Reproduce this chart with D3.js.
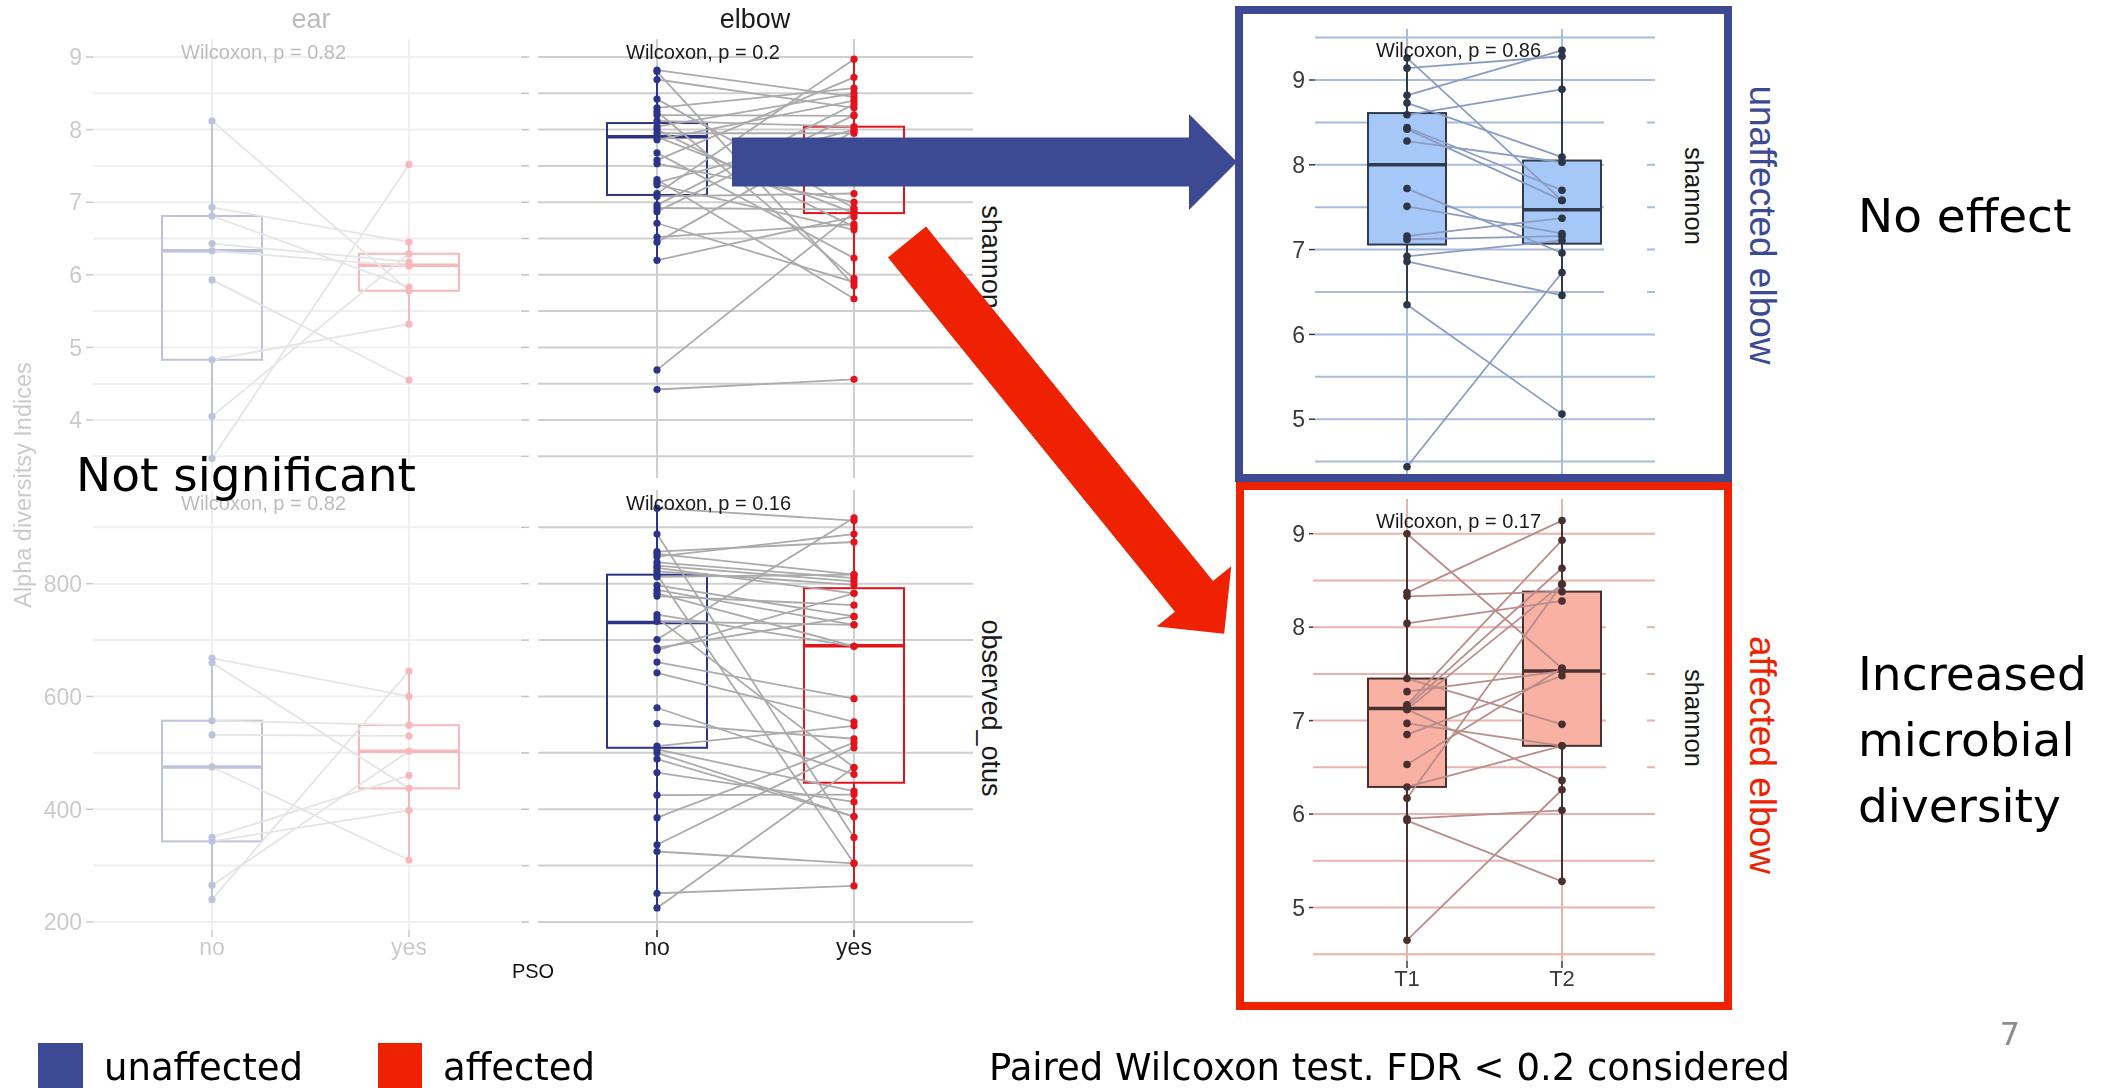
<!DOCTYPE html>
<html>
<head>
<meta charset="utf-8">
<script src="https://cdn.jsdelivr.net/npm/d3@7"></script>
<style>
  html, body { margin: 0; padding: 0; background: #fff; overflow: hidden; }
  svg { display: block; }
</style>
</head>
<body>
<svg id="slide" width="2115" height="1088"></svg>
<script>
// ---------------- data ----------------
const groups = ["no", "yes"];
const timepoints = ["T1", "T2"];
const shannonTicks = [4, 5, 6, 7, 8, 9];
const otusTicks = [200, 400, 600, 800];
const rightTicks = [5, 6, 7, 8, 9];

// ear, shannon (paired: no -> yes)
const earShannonNo  = [8.12, 6.93, 6.81, 6.43, 6.33, 5.93, 4.83, 4.05, 3.47];
const earShannonYes = [5.78, 6.45, 5.83, 6.18, 6.12, 4.55, 5.32, 6.29, 7.52];
// box stats: [lower whisker, q1, median, q3, upper whisker]
const earShannonBox = [[3.47, 4.83, 6.33, 6.81, 8.12], [5.32, 5.78, 6.13, 6.29, 6.45]];

// ear, observed_otus
const earOtusNo  = [668, 660, 557, 532, 475, 350, 343, 265, 240];
const earOtusYes = [600, 437, 549, 530, 310, 460, 398, 503, 645];
const earOtusBox = [[240, 343, 475, 557, 668], [310, 437, 503, 549, 645]];

// elbow, shannon
const elbowShannonNo  = [8.82, 8.80, 8.69, 8.42, 8.30, 8.25, 8.20, 8.12, 8.04, 8.00, 7.95, 7.90, 7.86, 7.68, 7.58,
                         7.53, 7.31, 7.27, 7.24, 7.12, 7.08, 6.96, 6.92, 6.87, 6.71, 6.52, 6.45, 6.20, 4.69, 4.42];
const elbowShannonYes = [8.45, 5.85, 8.30, 6.92, 8.57, 5.95, 8.19, 8.04, 8.50, 6.66, 7.95, 6.85, 8.40, 6.23, 8.72,
                         7.00, 5.67, 8.00, 6.62, 8.97, 7.12, 8.35, 6.90, 8.20, 5.90, 6.70, 7.98, 6.80, 6.86, 4.56];
const elbowShannonBox = [[6.20, 7.10, 7.90, 8.09, 8.82], [5.67, 6.85, 7.55, 8.04, 8.97]];

// elbow, observed_otus
const elbowOtusNo  = [934, 888, 857, 853, 848, 838, 832, 828, 822, 816, 812, 797, 789, 783, 778, 745, 739, 733,
                      701, 686, 682, 661, 642, 580, 552, 512, 506, 500, 489, 465, 425, 385, 337, 325, 251, 225];
const elbowOtusYes = [912, 350, 874, 816, 888, 810, 804, 783, 798, 304, 816, 742, 727, 689, 762, 689, 474, 727,
                      917, 742, 783, 596, 555, 462, 525, 548, 432, 387, 387, 413, 426, 518, 509, 304, 264, 474];
const elbowOtusBox = [[225, 509, 731, 816, 934], [264, 447, 690, 792, 917]];

// unaffected elbow, shannon (T1 -> T2)
const unaffT1 = [9.14, 8.82, 8.73, 8.59, 9.26, 8.44, 8.42, 8.28, 7.72, 7.51, 7.16, 7.12, 6.92, 6.86, 6.35, 4.44];
const unaffT2 = [9.28, 9.35, 8.09, 8.89, 7.58, 7.70, 7.58, 8.03, 6.96, 7.19, 7.37, 7.16, 7.11, 6.46, 5.06, 6.73];
const unaffBox = [[6.35, 7.06, 8.00, 8.61, 9.26], [6.46, 7.07, 7.47, 8.05, 9.35]];

// affected elbow, shannon (T1 -> T2)
const affT1 = [9.00, 8.37, 8.33, 8.04, 7.45, 7.31, 7.17, 7.15, 7.12, 7.12, 6.97, 6.85, 6.53, 6.29, 6.17, 5.95, 5.93, 4.65];
const affT2 = [7.56, 9.14, 8.38, 8.28, 6.96, 7.53, 8.93, 8.63, 8.46, 6.36, 6.73, 7.48, 7.56, 6.73, 8.46, 6.04, 5.28, 6.26];
const affBox = [[4.65, 6.29, 7.13, 7.45, 9.00], [5.28, 6.73, 7.53, 8.38, 9.14]];

const pLabels = {
  earShannon: "Wilcoxon, p = 0.82", earOtus: "Wilcoxon, p = 0.82",
  elbowShannon: "Wilcoxon, p = 0.2", elbowOtus: "Wilcoxon, p = 0.16",
  unaff: "Wilcoxon, p = 0.86", aff: "Wilcoxon, p = 0.17"
};

// ---------------- setup ----------------
const svg = d3.select("#slide");
const GG = "'Liberation Sans', Arial, Helvetica, sans-serif";
const SL = "'DejaVu Sans', 'Noto Sans', sans-serif";

const yShan = d3.scaleLinear().domain([3.5, 9]).range([456.3, 57]);
const yOtus = d3.scaleLinear().domain([200, 800]).range([922, 583.7]);
const xEar = d3.scalePoint().domain(groups).range([212, 409]);
const xElbow = d3.scalePoint().domain(groups).range([657, 854]);
const yUnaff = d3.scaleLinear().domain([5, 9]).range([419.2, 80]);
const yAff = d3.scaleLinear().domain([5, 9]).range([907.5, 533.7]);
const xRight = d3.scalePoint().domain(timepoints).range([1407, 1562]);

const shanGrid = d3.range(3.5, 9.01, 0.5);
const otusGrid = d3.range(200, 901, 100);
const unaffGrid = d3.range(4.5, 9.51, 0.5);
const affGrid = d3.range(4.5, 9.01, 0.5);

function grid(g, o) {
  g.append("g").selectAll("line").data(o.hTicks).join("line")
    .attr("x1", o.x0).attr("x2", o.x1)
    .attr("y1", d => o.y(d)).attr("y2", d => o.y(d))
    .attr("stroke", o.color).attr("stroke-width", o.width);
  g.append("g").selectAll("line").data(o.x.domain()).join("line")
    .attr("x1", d => o.x(d)).attr("x2", d => o.x(d))
    .attr("y1", o.y0).attr("y2", o.y1)
    .attr("stroke", o.color).attr("stroke-width", o.width);
}

function pairedBox(g, o) {
  const keys = o.x.domain();
  o.boxes.forEach((s, i) => {
    const cx = o.x(keys[i]);
    const c = o.stroke[i];
    const bg = g.append("g");
    bg.append("line").attr("x1", cx).attr("x2", cx).attr("y1", o.y(s[0])).attr("y2", o.y(s[1]))
      .attr("stroke", c).attr("stroke-width", o.sw);
    bg.append("line").attr("x1", cx).attr("x2", cx).attr("y1", o.y(s[3])).attr("y2", o.y(s[4]))
      .attr("stroke", c).attr("stroke-width", o.sw);
    bg.append("rect").attr("x", cx - o.bw / 2).attr("y", o.y(s[3]))
      .attr("width", o.bw).attr("height", o.y(s[1]) - o.y(s[3]))
      .attr("fill", o.fill[i]).attr("stroke", c).attr("stroke-width", o.sw);
    bg.append("line").attr("x1", cx - o.bw / 2).attr("x2", cx + o.bw / 2)
      .attr("y1", o.y(s[2])).attr("y2", o.y(s[2]))
      .attr("stroke", c).attr("stroke-width", o.msw);
  });
  g.append("g").selectAll("line").data(d3.zip(o.a, o.b)).join("line")
    .attr("x1", o.x(keys[0])).attr("x2", o.x(keys[1]))
    .attr("y1", d => o.y(d[0])).attr("y2", d => o.y(d[1]))
    .attr("stroke", o.lineColor).attr("stroke-width", o.lw);
  [o.a, o.b].forEach((vals, i) => {
    g.append("g").selectAll("circle").data(vals).join("circle")
      .attr("cx", o.x(keys[i])).attr("cy", d => o.y(d)).attr("r", o.r)
      .attr("fill", o.point[i]);
  });
  g.append("text").attr("x", o.x(keys[0]) - 31).attr("y", o.labelY)
    .attr("font-family", GG).attr("font-size", 20).attr("fill", "#1a1a1a")
    .text(o.label);
}

function yAxis(g, o) {
  g.append("g").selectAll("line").data(o.ticks).join("line")
    .attr("x1", o.xt0).attr("x2", o.xt1).attr("y1", d => o.y(d)).attr("y2", d => o.y(d))
    .attr("stroke", o.color).attr("stroke-width", 1.5);
  if (o.labels) {
    g.append("g").selectAll("text").data(o.ticks).join("text")
      .attr("x", o.xl).attr("y", d => o.y(d)).attr("dy", "0.36em")
      .attr("text-anchor", "end").attr("font-family", GG).attr("font-size", 23)
      .attr("fill", o.color).text(d => d);
  }
}

function xAxis(g, o) {
  g.append("g").selectAll("line").data(o.x.domain()).join("line")
    .attr("x1", d => o.x(d)).attr("x2", d => o.x(d)).attr("y1", o.y0).attr("y2", o.y0 + 7)
    .attr("stroke", o.color).attr("stroke-width", 1.5);
  g.append("g").selectAll("text").data(o.x.domain()).join("text")
    .attr("x", d => o.x(d)).attr("y", o.ly).attr("text-anchor", "middle")
    .attr("font-family", GG).attr("font-size", o.size).attr("fill", o.color).text(d => d);
}

function rotLabel(g, x, y, angle, txt, size, color, font) {
  g.append("text").attr("transform", `translate(${x},${y}) rotate(${angle})`)
    .attr("text-anchor", "middle").attr("font-family", font || GG)
    .attr("font-size", size).attr("fill", color).text(txt);
}

const navy = "#2b3486", red = "#e3121b";

// ---------------- ear (faded) ----------------
const ear = svg.append("g").attr("opacity", 0.3);
grid(ear, { hTicks: shanGrid, x0: 93, x1: 520, y: yShan, x: xEar, y0: 39, y1: 478, color: "#c8c8c8", width: 2 });
grid(ear, { hTicks: otusGrid, x0: 93, x1: 520, y: yOtus, x: xEar, y0: 490, y1: 930, color: "#c8c8c8", width: 2 });
const earStyle = { bw: 100, sw: 2, msw: 3.5, fill: ["none", "none"], stroke: [navy, red],
                   lineColor: "#a8a8a8", lw: 1.8, r: 3.6, point: [navy, red] };
pairedBox(ear, Object.assign({ x: xEar, y: yShan, a: earShannonNo, b: earShannonYes, boxes: earShannonBox,
                               label: pLabels.earShannon, labelY: 59 }, earStyle));
pairedBox(ear, Object.assign({ x: xEar, y: yOtus, a: earOtusNo, b: earOtusYes, boxes: earOtusBox,
                               label: pLabels.earOtus, labelY: 510 }, earStyle));
yAxis(ear, { ticks: shannonTicks, y: yShan, xt0: 86, xt1: 93, xl: 82, labels: true, color: "#4d4d4d" });
yAxis(ear, { ticks: otusTicks, y: yOtus, xt0: 86, xt1: 93, xl: 82, labels: true, color: "#4d4d4d" });
xAxis(ear, { x: xEar, y0: 930, ly: 955, size: 23, color: "#4d4d4d" });
ear.append("text").attr("x", 311).attr("y", 28).attr("text-anchor", "middle")
  .attr("font-family", GG).attr("font-size", 27).attr("fill", "#1a1a1a").text("ear");
rotLabel(ear, 31, 485, -90, "Alpha diversitsy Indices", 23.5, "#4d4d4d");

// ---------------- elbow ----------------
const elbow = svg.append("g");
grid(elbow, { hTicks: shanGrid, x0: 538, x1: 973, y: yShan, x: xElbow, y0: 39, y1: 478, color: "#cfcfcf", width: 2 });
grid(elbow, { hTicks: otusGrid, x0: 538, x1: 973, y: yOtus, x: xElbow, y0: 490, y1: 930, color: "#cfcfcf", width: 2 });
yAxis(elbow, { ticks: shanGrid, y: yShan, xt0: 521, xt1: 529, labels: false, color: "#c4c4c4" });
yAxis(elbow, { ticks: otusGrid, y: yOtus, xt0: 521, xt1: 529, labels: false, color: "#c4c4c4" });
const elbowStyle = { bw: 100, sw: 2, msw: 3.5, fill: ["none", "none"], stroke: [navy, red],
                     lineColor: "#ababab", lw: 1.8, r: 3.6, point: [navy, red] };
pairedBox(elbow, Object.assign({ x: xElbow, y: yShan, a: elbowShannonNo, b: elbowShannonYes, boxes: elbowShannonBox,
                                 label: pLabels.elbowShannon, labelY: 59 }, elbowStyle));
pairedBox(elbow, Object.assign({ x: xElbow, y: yOtus, a: elbowOtusNo, b: elbowOtusYes, boxes: elbowOtusBox,
                                 label: pLabels.elbowOtus, labelY: 510 }, elbowStyle));
xAxis(elbow, { x: xElbow, y0: 930, ly: 955, size: 23, color: "#1a1a1a" });
elbow.append("text").attr("x", 755).attr("y", 28).attr("text-anchor", "middle")
  .attr("font-family", GG).attr("font-size", 27).attr("fill", "#1a1a1a").text("elbow");
rotLabel(elbow, 982, 257, 90, "shannon", 27, "#1a1a1a");
rotLabel(elbow, 982, 708, 90, "observed_otus", 27, "#1a1a1a");
elbow.append("text").attr("x", 533).attr("y", 978).attr("text-anchor", "middle")
  .attr("font-family", GG).attr("font-size", 20).attr("fill", "#111").text("PSO");

// ---------------- unaffected elbow, T1 vs T2 ----------------
const un = svg.append("g");
grid(un, { hTicks: unaffGrid, x0: 1315, x1: 1655, y: yUnaff, x: xRight, y0: 29, y1: 478, color: "#a9bbdf", width: 2 });
un.append("rect").attr("x", 1604).attr("y", 100).attr("width", 43).attr("height", 212).attr("fill", "#fff");
pairedBox(un, { x: xRight, y: yUnaff, a: unaffT1, b: unaffT2, boxes: unaffBox, bw: 78, sw: 2, msw: 3.5,
                fill: ["#a6c8f8", "#a6c8f8"], stroke: ["#2f3a4c", "#2f3a4c"], lineColor: "#8b9cc3", lw: 1.8,
                r: 3.8, point: ["#2c3647", "#2c3647"], label: pLabels.unaff, labelY: 57 });
yAxis(un, { ticks: rightTicks, y: yUnaff, xt0: 1309, xt1: 1315, xl: 1305, labels: true, color: "#3a3a3a" });
rotLabel(un, 1685, 196, 90, "shannon", 25.5, "#1a1a1a");

// ---------------- affected elbow, T1 vs T2 ----------------
const af = svg.append("g");
grid(af, { hTicks: affGrid, x0: 1313, x1: 1655, y: yAff, x: xRight, y0: 499, y1: 961, color: "#e8b2ad", width: 2 });
af.append("rect").attr("x", 1606).attr("y", 600).attr("width", 41).attr("height", 190).attr("fill", "#fff");
pairedBox(af, { x: xRight, y: yAff, a: affT1, b: affT2, boxes: affBox, bw: 78, sw: 2, msw: 3.5,
                fill: ["#f9b1a3", "#f9b1a3"], stroke: ["#4a3131", "#4a3131"], lineColor: "#b98d89", lw: 1.8,
                r: 3.8, point: ["#4a2f2f", "#4a2f2f"], label: pLabels.aff, labelY: 528 });
yAxis(af, { ticks: rightTicks, y: yAff, xt0: 1309, xt1: 1313, xl: 1305, labels: true, color: "#3a3a3a" });
xAxis(af, { x: xRight, y0: 961, ly: 986, size: 22, color: "#3a3a3a" });
rotLabel(af, 1685, 718, 90, "shannon", 25.5, "#1a1a1a");

// ---------------- frames ----------------
svg.append("rect").attr("x", 1239).attr("y", 10).attr("width", 489).attr("height", 468)
  .attr("fill", "none").attr("stroke", "#3c4a93").attr("stroke-width", 8);
svg.append("rect").attr("x", 1240).attr("y", 486).attr("width", 488).attr("height", 520)
  .attr("fill", "none").attr("stroke", "#ee2200").attr("stroke-width", 8);

// ---------------- arrows ----------------
function arrow(tail, angleDeg, len, shaftW, headW, headL, color) {
  const a = angleDeg * Math.PI / 180;
  const ux = Math.cos(a), uy = Math.sin(a), nx = -uy, ny = ux;
  const P = (s, t) => [tail[0] + ux * s + nx * t, tail[1] + uy * s + ny * t];
  const pts = [P(0, -shaftW / 2), P(len - headL, -shaftW / 2), P(len - headL, -headW / 2), P(len, 0),
               P(len - headL, headW / 2), P(len - headL, shaftW / 2), P(0, shaftW / 2)];
  svg.append("path").attr("d", d3.line()(pts) + "Z").attr("fill", color);
}
arrow([732, 162], 0, 505, 49, 96, 48, "#3c4a93");
arrow([907, 242], 51.0, 504, 49, 96, 48, "#ee2200");

// ---------------- slide text ----------------
rotLabel(svg, 1750, 225, 90, "unaffected elbow", 37, "#3c4a93");
rotLabel(svg, 1750, 755, 90, "affected elbow", 37, "#ee2200");

function slideText(x, y, txt, size, color, anchor) {
  svg.append("text").attr("x", x).attr("y", y).attr("font-family", SL).attr("font-size", size)
    .attr("fill", color || "#000").attr("text-anchor", anchor || "start").text(txt);
}
slideText(1858, 232, "No effect", 47);
slideText(1858, 690, "Increased", 47);
slideText(1858, 756, "microbial", 47);
slideText(1858, 822, "diversity", 47);
slideText(76, 491, "Not significant", 47);

svg.append("rect").attr("x", 38).attr("y", 1043).attr("width", 45).attr("height", 50).attr("fill", "#3c4a93");
slideText(104, 1080, "unaffected", 37);
svg.append("rect").attr("x", 378).attr("y", 1043).attr("width", 44).attr("height", 50).attr("fill", "#ee2200");
slideText(443, 1080, "affected", 37);
slideText(989, 1080, "Paired Wilcoxon test. FDR < 0.2 considered", 37);
slideText(2010, 1045, "7", 32, "#8c8c8c", "middle");
</script>
</body>
</html>
